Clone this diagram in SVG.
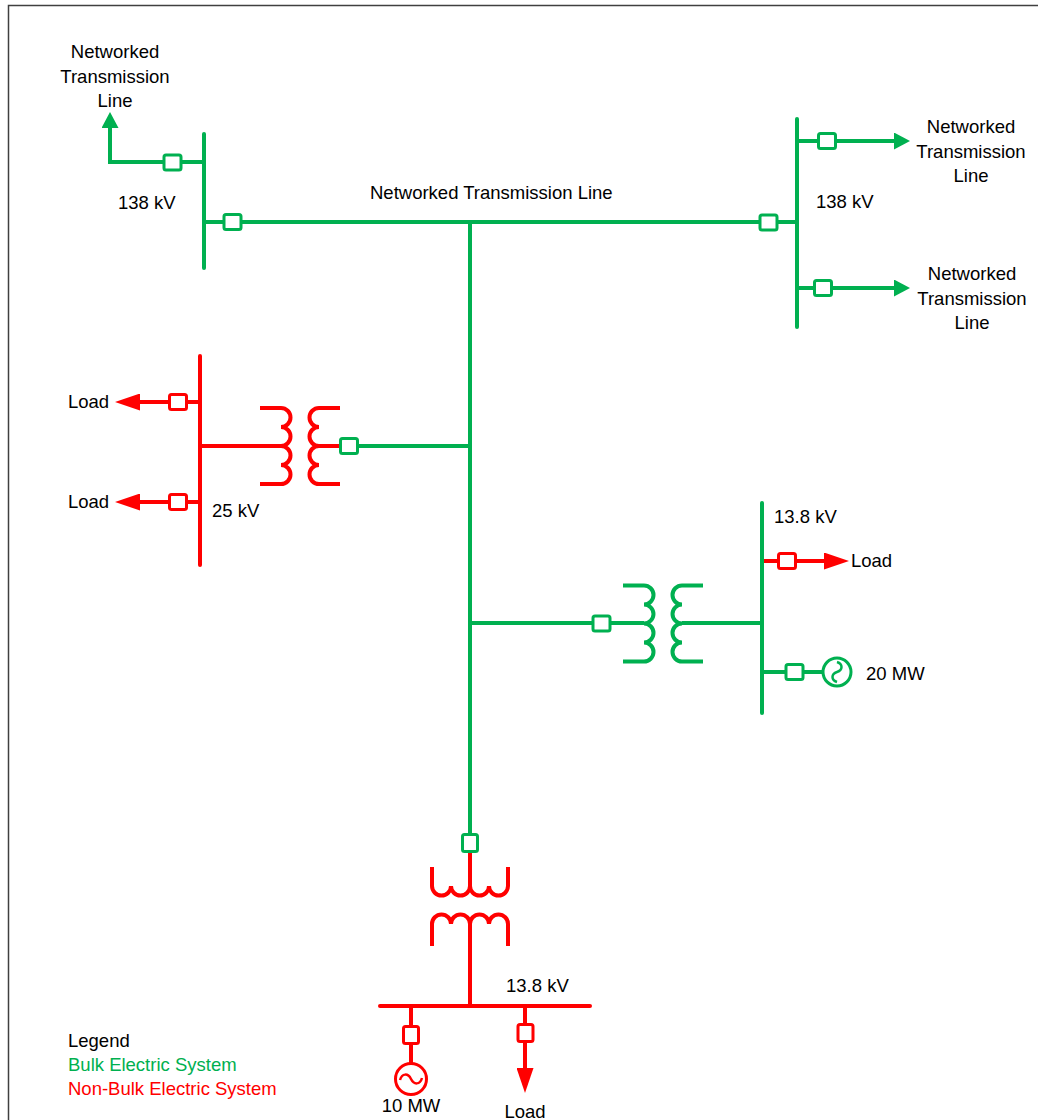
<svg xmlns="http://www.w3.org/2000/svg" width="1038" height="1120" viewBox="0 0 1038 1120">
<style>
  .g{stroke:#00B050;fill:none;stroke-width:4}
  .r{stroke:#FF0000;fill:none;stroke-width:4}
  .bus{stroke-linecap:round}
  .bg{stroke:#00B050;fill:#fff;stroke-width:3}
  .br{stroke:#FF0000;fill:#fff;stroke-width:3}
  text{font-family:"Liberation Sans",Arial,sans-serif;font-size:18.5px;fill:#000}
  .mid{text-anchor:middle}
  .tg{fill:#00B050}
  .tr{fill:#FF0000}
</style>
<defs>
  <marker id="ag" markerUnits="userSpaceOnUse" markerWidth="16" markerHeight="17" viewBox="0 0 16 17" refX="0" refY="8.5" orient="auto"><path d="M0,0 L16,8.5 L0,17 z" fill="#00B050"/></marker>
  <marker id="ar" markerUnits="userSpaceOnUse" markerWidth="25" markerHeight="17" viewBox="0 0 25 17" refX="0" refY="8.5" orient="auto"><path d="M0,0 L25,8.5 L0,17 z" fill="#FF0000"/></marker>
</defs>
<rect x="8.5" y="5.5" width="1040" height="1130" fill="#fff" stroke="#404040" stroke-width="1.5"/>

<g id="connectors">
  <path class="g" d="M164,162 H110 V128" marker-end="url(#ag)"/>
  <path class="g" d="M181,162 H204"/>
  <path class="g" d="M204,222 H224"/>
  <path class="g" d="M241,222 H760"/>
  <path class="g" d="M777,222 H797"/>
  <path class="g" d="M797,141 H818.5"/>
  <path class="g" d="M835.5,141 H894" marker-end="url(#ag)"/>
  <path class="g" d="M797,288 H814.5"/>
  <path class="g" d="M831.5,288 H894" marker-end="url(#ag)"/>
  <path class="g" d="M470,222 V834.5"/>
  <path class="g" d="M470,446 H357.5"/>
  <path class="r" d="M200,446 H281"/>
  <path class="r" d="M319,446 H340.5"/>
  <path class="r" d="M200,402 H186.5"/>
  <path class="r" d="M169.5,402 H140" marker-end="url(#ar)"/>
  <path class="r" d="M200,502 H186.5"/>
  <path class="r" d="M169.5,502 H140" marker-end="url(#ar)"/>
  <path class="g" d="M470,623 H610"/>
  <path class="g" d="M593,623 H644"/>
  <path class="g" d="M682,623 H762"/>
  <path class="r" d="M762,561 H778.5"/>
  <path class="r" d="M795.5,561 H824" marker-end="url(#ar)"/>
  <path class="g" d="M762,672 H786"/>
  <path class="g" d="M803,672 H823"/>
  <path class="r" d="M470,851.5 V886"/>
  <path class="r" d="M470,924 V1006"/>
  <path class="r" d="M411,1006 V1026.5"/>
  <path class="r" d="M411,1043.5 V1063.5"/>
  <path class="r" d="M525,1006 V1024.5"/>
  <path class="r" d="M525,1041.5 V1068" marker-end="url(#ar)"/>
</g>

<g id="bus-138kV-left">
  <path class="g bus" d="M204,134 V268"/>
  <text x="118" y="209">138 kV</text>
</g>
<g id="bus-138kV-right">
  <path class="g bus" d="M797,119 V327"/>
  <text x="816" y="208">138 kV</text>
</g>
<g id="bus-25kV">
  <path class="r bus" d="M200,356 V565"/>
  <text x="212" y="517">25 kV</text>
</g>
<g id="bus-13-8kV-right">
  <path class="g bus" d="M762,503 V713"/>
  <text x="774" y="523">13.8 kV</text>
</g>
<g id="bus-13-8kV-bottom">
  <path class="r bus" d="M380,1006 H590"/>
  <text x="506" y="992">13.8 kV</text>
</g>

<g id="breakers">
  <rect class="bg" x="164" y="155" width="17" height="15" rx="2"/>
  <rect class="bg" x="224" y="214.5" width="17" height="15" rx="2"/>
  <rect class="bg" x="760" y="215" width="17" height="15" rx="2"/>
  <rect class="bg" x="818.5" y="133.5" width="17" height="15" rx="2"/>
  <rect class="bg" x="814.5" y="280.5" width="17" height="15" rx="2"/>
  <rect class="bg" x="340.5" y="438.5" width="17" height="15" rx="2"/>
  <rect class="br" x="169.5" y="394.5" width="17" height="15" rx="2"/>
  <rect class="br" x="169.5" y="494.5" width="17" height="15" rx="2"/>
  <rect class="bg" x="593" y="616" width="17" height="15" rx="2"/>
  <rect class="br" x="778.5" y="553.5" width="17" height="15" rx="2"/>
  <rect class="bg" x="786" y="664.5" width="17" height="15" rx="2"/>
  <rect class="bg" x="462.5" y="834.5" width="15" height="17" rx="2"/>
  <rect class="br" x="403.5" y="1026.5" width="15" height="17" rx="2"/>
  <rect class="br" x="518" y="1024.5" width="15" height="17" rx="2"/>
</g>

<g id="transformer-25kV">
  <path class="r" d="M260,408 H281 a9.5,9.5 0 0 1 0,19 a9.5,9.5 0 0 1 0,19 a9.5,9.5 0 0 1 0,19 a9.5,9.5 0 0 1 0,19 H260"/>
  <path class="r" d="M340,408 H319 a9.5,9.5 0 0 0 0,19 a9.5,9.5 0 0 0 0,19 a9.5,9.5 0 0 0 0,19 a9.5,9.5 0 0 0 0,19 H340"/>
</g>
<g id="transformer-13-8kV-right">
  <path class="g" d="M623,585.5 H644 a9.5,9.5 0 0 1 0,19 a9.5,9.5 0 0 1 0,19 a9.5,9.5 0 0 1 0,19 a9.5,9.5 0 0 1 0,19 H623"/>
  <path class="g" d="M703,585.5 H682 a9.5,9.5 0 0 0 0,19 a9.5,9.5 0 0 0 0,19 a9.5,9.5 0 0 0 0,19 a9.5,9.5 0 0 0 0,19 H703"/>
</g>
<g id="transformer-13-8kV-bottom">
  <path class="r" d="M432,867 V886 a9.5,9.5 0 0 0 19,0 a9.5,9.5 0 0 0 19,0 a9.5,9.5 0 0 0 19,0 a9.5,9.5 0 0 0 19,0 V867"/>
  <path class="r" d="M432,946 V924 a9.5,9.5 0 0 1 19,0 a9.5,9.5 0 0 1 19,0 a9.5,9.5 0 0 1 19,0 a9.5,9.5 0 0 1 19,0 V946"/>
</g>

<g id="generator-20MW">
  <circle cx="837" cy="672" r="14" stroke="#00B050" stroke-width="3" fill="#fff"/>
  <path d="M837,662 c6,2 6,8 0,10 c-6,2 -6,8 0,10" stroke="#00B050" stroke-width="2.5" fill="none"/>
  <text x="866" y="680">20 MW</text>
</g>
<g id="generator-10MW">
  <circle cx="411" cy="1079" r="15.5" stroke="#FF0000" stroke-width="3" fill="#fff"/>
  <path d="M400,1080 c2,-7 8,-7 11,-1 c3,6 9,6 11,-1" stroke="#FF0000" stroke-width="2.5" fill="none"/>
  <text class="mid" x="411" y="1112">10 MW</text>
</g>

<g id="line-top-left">
  <text class="mid" x="115" y="58">Networked</text>
  <text class="mid" x="115" y="83">Transmission</text>
  <text class="mid" x="115" y="107">Line</text>
</g>
<g id="line-main">
  <text x="370" y="199">Networked Transmission Line</text>
</g>
<g id="line-right-top">
  <text class="mid" x="971" y="133">Networked</text>
  <text class="mid" x="971" y="157.5">Transmission</text>
  <text class="mid" x="971" y="182">Line</text>
</g>
<g id="line-right-bottom">
  <text class="mid" x="972" y="280">Networked</text>
  <text class="mid" x="972" y="304.5">Transmission</text>
  <text class="mid" x="972" y="329">Line</text>
</g>
<g id="load-left-1"><text x="68" y="408">Load</text></g>
<g id="load-left-2"><text x="68" y="508">Load</text></g>
<g id="load-right"><text x="851" y="567">Load</text></g>
<g id="load-bottom"><text class="mid" x="525" y="1118">Load</text></g>

<g id="legend">
  <text x="68" y="1047">Legend</text>
  <text class="tg" x="68" y="1071">Bulk Electric System</text>
  <text class="tr" x="68" y="1095">Non-Bulk Electric System</text>
</g>
</svg>
